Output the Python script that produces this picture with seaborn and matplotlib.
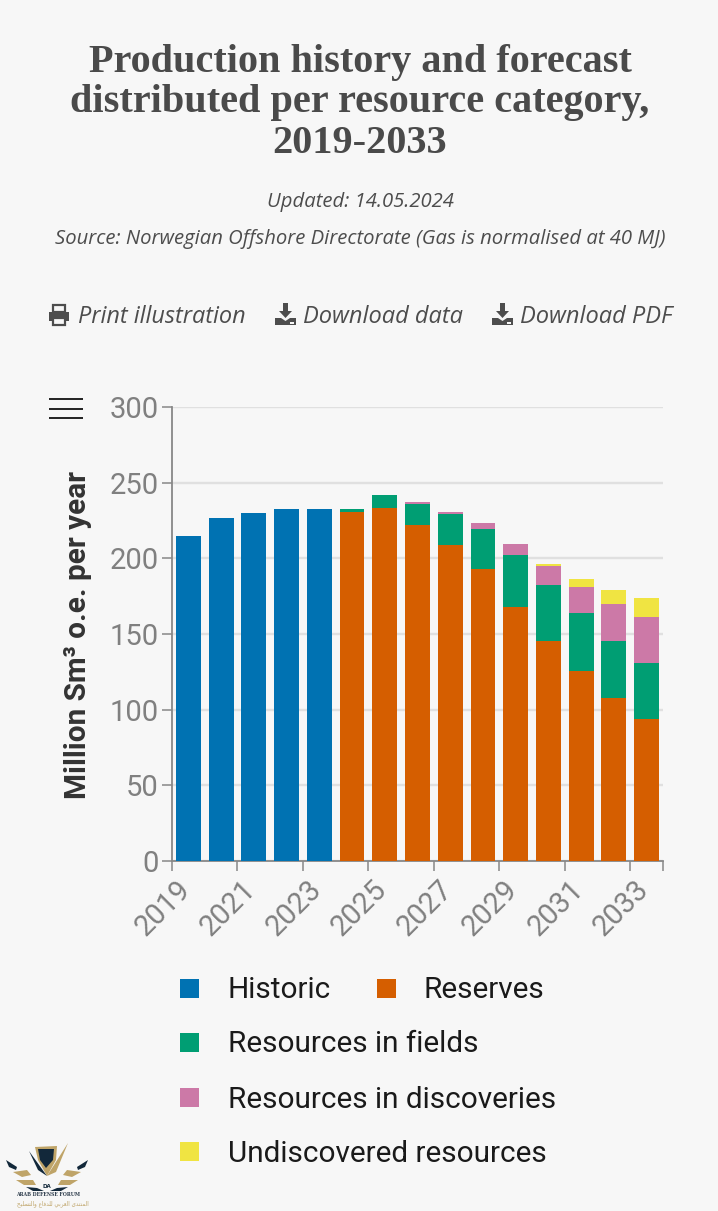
"""Production history and forecast, stacked per resource category"""

import numpy as np
import pandas as pd
import matplotlib
matplotlib.use('Agg')
import matplotlib.pyplot as plt
from matplotlib.patches import Rectangle, Polygon
from matplotlib.transforms import ScaledTranslation
import seaborn as sns

# Chart data (million Sm3 o.e. per year)
YEARS = [str(y) for y in range(2019, 2034)]
HISTORIC = [215, 226.5, 230.2, 232.5, 232.5, 0, 0, 0, 0, 0, 0, 0, 0, 0, 0]
RESERVES = [0, 0, 0, 0, 0, 230.8, 233.3, 222.2, 208.6, 192.7, 167.6, 145.4, 125.6, 108, 93.6]
FIELDS = [0, 0, 0, 0, 0, 1.5, 8.7, 13.8, 20.9, 26.9, 34.8, 37.2, 38.3, 37.4, 37]
DISCOVERIES = [0, 0, 0, 0, 0, 0, 0, 1.3, 1.3, 4, 7.4, 12.5, 17.1, 24.6, 30.8]
UNDISCOVERED = [0, 0, 0, 0, 0, 0, 0, 0, 0, 0, 0, 1.3, 5.6, 9, 12.6]

SERIES_NAMES = ['Historic', 'Reserves', 'Resources in fields',
                'Resources in discoveries', 'Undiscovered resources']
SERIES_COLORS = ['#0072B2', '#D55E00', '#009E73', '#CC79A7', '#F0E442']
SERIES_VALUES = [HISTORIC, RESERVES, FIELDS, DISCOVERIES, UNDISCOVERED]

Y_TICKS = [0, 50, 100, 150, 200, 250, 300]
X_TICK_LABELS = ['2019', '2021', '2023', '2025', '2027', '2029', '2031', '2033', '']

TITLE_LINES = ['Production history and forecast',
               'distributed per resource category,',
               '2019-2033']
UPDATED = 'Updated: 14.05.2024'
SOURCE = 'Source: Norwegian Offshore Directorate (Gas is normalised at 40 MJ)'
Y_LABEL = 'Million Sm³ o.e. per year'

BG = '#F7F7F7'
W, H = 718, 1211

sns.set_theme(style='white')
plt.rcParams['font.family'] = ['Roboto', 'DejaVu Sans']

fig = plt.figure(figsize=(W / 100, H / 100), dpi=100, facecolor=BG)
ax = fig.add_axes([172 / W, (H - 861) / H, 491 / W, 454 / H], facecolor=BG)

# Stacked bars
df = pd.DataFrame(dict(zip(SERIES_NAMES, SERIES_VALUES)), index=YEARS)
bottom = np.zeros(len(YEARS))
for name, color in zip(SERIES_NAMES, SERIES_COLORS):
    sns.barplot(x=YEARS, y=df[name].values, color=color, saturation=1, width=0.76,
                bottom=bottom, ax=ax, zorder=3, linewidth=0, edgecolor='none')
    bottom = bottom + df[name].values

ax.set_xlim(-0.5, 14.5)
ax.set_ylim(0, 300)
ax.set_yticks(Y_TICKS)
ax.set_xticks(np.arange(-0.5, 15, 2).tolist() + [14.5])
ax.set_xticklabels(X_TICK_LABELS)
ax.grid(axis='y', color='#E0E0E0', linewidth=1.7, zorder=0)
ax.set_axisbelow(True)
ax.tick_params(axis='y', length=7.5, width=1.1, color='#888888', labelcolor='#808080',
               labelsize=21, pad=2, left=True)
ax.tick_params(axis='x', length=7.5, width=1.1, color='#888888', labelcolor='#808080',
               labelsize=21, pad=3, bottom=True)
offset = ScaledTranslation(-9 / 100, 0, fig.dpi_scale_trans)
for lab in ax.get_xticklabels():
    lab.set_rotation(45)
    lab.set_ha('center')
    lab.set_transform(lab.get_transform() + offset)

sns.despine(ax=ax, top=True, right=True)
for side in ['left', 'bottom']:
    ax.spines[side].set_color('#888888')
    ax.spines[side].set_linewidth(1.3)

ax.set_ylabel(Y_LABEL, fontsize=21.4, fontweight='bold', color='#333333')
ax.yaxis.set_label_coords((92 - 172) / 491, (861 - 635) / 454)
ax.set_xlabel('')

# Overlay in pixel coordinates for page furniture
ov = fig.add_axes([0, 0, 1, 1], facecolor='none')
ov.set_xlim(0, W)
ov.set_ylim(H, 0)
ov.axis('off')

for line, y in zip(TITLE_LINES, [72, 112, 153]):
    ov.text(360, y, line, ha='center', va='baseline', fontsize=29, fontweight='bold',
            family='Liberation Serif', color='#4A4A4A')

ITALIC = dict(family='Open Sans', style='italic', color='#4D4D4D', va='center')
ov.text(360, 202, UPDATED, ha='center', fontsize=14.6, **ITALIC)
ov.text(360, 239, SOURCE, ha='center', fontsize=14.6, **ITALIC)
ov.text(78, 317, 'Print illustration', ha='left', fontsize=16.9, **ITALIC)
ov.text(303, 317, 'Download data', ha='left', fontsize=17, **ITALIC)
ov.text(520, 317, 'Download PDF', ha='left', fontsize=17, **ITALIC)

ICON = '#4D4D4D'
# printer icon
ov.add_patch(Rectangle((53, 305), 12, 7, fill=False, ec=ICON, lw=1.6))
ov.add_patch(Rectangle((49, 312), 20, 9, color=ICON, lw=0))
ov.add_patch(Rectangle((53, 318), 12, 7, fc=BG, ec=ICON, lw=1.6))
# download icons
for x0 in [275, 492]:
    ov.add_patch(Polygon([(x0 + 8, 303), (x0 + 13, 303), (x0 + 13, 311), (x0 + 17, 311),
                          (x0 + 10.5, 318), (x0 + 4, 311), (x0 + 8, 311)], color=ICON, lw=0))
    ov.add_patch(Polygon([(x0, 318), (x0 + 6, 318), (x0 + 10.5, 321), (x0 + 15, 318),
                          (x0 + 21, 318), (x0 + 21, 325), (x0, 325)], color=ICON, lw=0))
    ov.add_patch(Rectangle((x0 + 15, 321.5), 4, 2, color=BG, lw=0))

# hamburger menu
for y in [399, 408.5, 418]:
    ov.plot([49, 83], [y, y], color='#111111', lw=1.3, solid_capstyle='butt')

# Legend
LEGEND_POS = [(180, 988, 228), (377, 988, 424), (180, 1042, 228), (180, 1097, 228), (180, 1151, 228)]
for name, color, (sx, sy, tx) in zip(SERIES_NAMES, SERIES_COLORS, LEGEND_POS):
    ov.add_patch(Rectangle((sx, sy - 9.5), 19, 19, color=color, lw=0))
    ov.text(tx, sy + 10.5, name, ha='left', va='baseline', fontsize=21.4, color='#1A1A1A')

# Forum watermark, bottom left
GOLD = '#BFA468'
DARK = '#12283A'
ov.add_patch(Polygon([(35, 1147), (57, 1146), (56, 1160), (47, 1176), (38, 1160)], color=GOLD, lw=0))
ov.add_patch(Polygon([(38, 1149), (54, 1149), (53, 1160), (46, 1168), (40, 1160)], color=DARK, lw=0))
ov.add_patch(Polygon([(47, 1176), (68, 1143), (56, 1172)], color=GOLD, lw=0))
ov.add_patch(Polygon([(29, 1151), (47, 1176), (38, 1170)], color=DARK, lw=0))
WING_L = [([(6, 1160), (17, 1167), (16, 1170), (9, 1167)], DARK),
          ([(13, 1172), (27, 1170), (31, 1175), (22, 1177)], GOLD),
          ([(16, 1180), (33, 1180), (36, 1185), (24, 1185)], GOLD),
          ([(26, 1187), (37, 1188), (44, 1191), (33, 1191)], DARK)]
for pts, col in WING_L:
    ov.add_patch(Polygon(pts, color=col, lw=0))
    ov.add_patch(Polygon([(94 - x, y) for x, y in pts], color=col, lw=0))
ov.text(47, 1187, 'DA', ha='center', va='center', fontsize=4, fontweight='bold',
        family='DejaVu Sans', color=DARK)
ov.text(48, 1195, 'ARAB DEFENSE FORUM', ha='center', va='center', fontsize=3.3,
        fontweight='bold', family='DejaVu Serif', color='#2B3A4A')
# Arabic in presentation forms, reversed since matplotlib does no shaping
ARABIC = ('\uFE8D\uFEDF\uFEE4\uFEE8\uFE98\uFEAA\uFEEF \uFE8D\uFEDF\uFECC\uFEAE\uFE91\uFEF2 '
          '\uFEDF\uFEE0\uFEAA\uFED3\uFE8E\uFEC9 \uFEED\uFE8D\uFEDF\uFE98\uFEB4\uFEE0\uFEF4\uFEA2')
ov.text(53, 1204, ARABIC[::-1], ha='center', va='center', fontsize=4.1,
        family='DejaVu Sans', color=GOLD)

fig.savefig('out.png', dpi=100, facecolor=BG)
